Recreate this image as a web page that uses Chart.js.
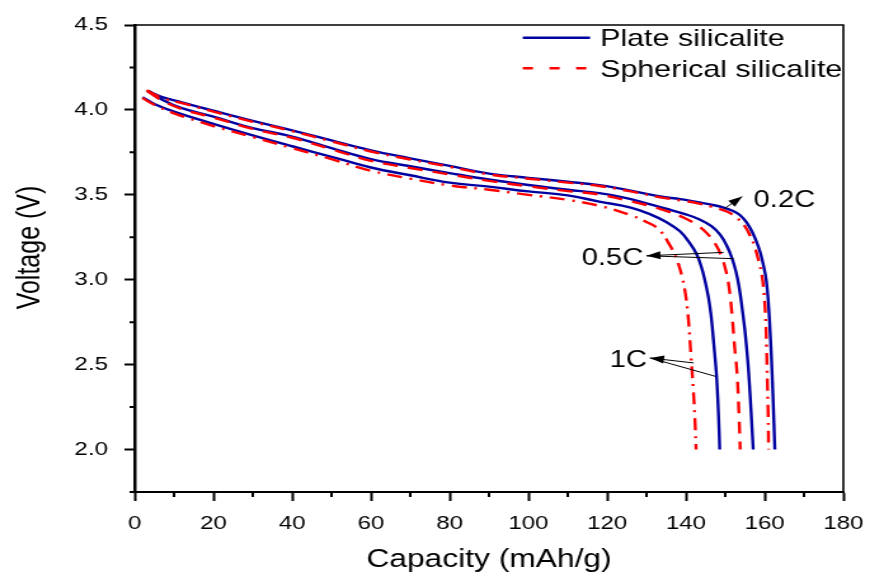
<!DOCTYPE html>
<html>
<head>
<meta charset="utf-8">
<script src="https://cdn.jsdelivr.net/npm/chart.js@4.4.1/dist/chart.umd.min.js"></script>
<style>
  html, body { margin: 0; padding: 0; background: #fff; overflow: hidden; }
  /* the figure is drawn narrow and stretched sideways, like the original plot export */
  #wrap { width: 685px; height: 579px; transform: scaleX(1.2701); transform-origin: 0 0; }
</style>
</head>
<body>
<div id="wrap"><canvas id="chart" width="685" height="579"></canvas></div>
<script>
// ── discharge curves: capacity (mAh/g) vs voltage (V) ─────────────────────
const plate02Cap  = [3.3, 7, 12, 20, 30, 40, 50, 60, 70, 80, 90, 100, 110, 118, 126, 133.5, 138.6, 143, 146.5, 149.6, 152, 153.8, 155.5, 156.8, 158, 158.9, 159.7, 160.4, 161, 161.5, 161.9, 162.3, 162.6];
const plate02Volt = [4.112, 4.075, 4.045, 3.995, 3.935, 3.88, 3.82, 3.762, 3.715, 3.67, 3.625, 3.6, 3.577, 3.557, 3.525, 3.49, 3.475, 3.457, 3.442, 3.425, 3.405, 3.38, 3.335, 3.284, 3.22, 3.16, 3.085, 3.0, 2.85, 2.65, 2.45, 2.2, 2.0];

const plate05Cap  = [3.4, 7, 12, 20, 30, 40, 50, 60, 70, 80, 90, 100, 110, 118, 124, 130, 135, 140, 143.5, 146.5, 148.7, 150.4, 151.7, 152.7, 153.5, 154.3, 155, 155.8, 156.5, 157.1];
const plate05Volt = [4.113, 4.06, 4.01, 3.96, 3.893, 3.843, 3.775, 3.71, 3.668, 3.628, 3.59, 3.558, 3.53, 3.51, 3.485, 3.45, 3.418, 3.385, 3.355, 3.315, 3.265, 3.2, 3.128, 3.05, 2.96, 2.83, 2.7, 2.5, 2.25, 2.0];

const plate1Cap   = [2.0, 5, 10, 20, 30, 40, 50, 60, 70, 80, 90, 100, 110, 118, 126, 131, 135, 138.5, 141, 142.8, 144, 144.9, 145.7, 146.4, 147.1, 147.8, 148.3, 148.6];
const plate1Volt  = [4.075, 4.035, 3.99, 3.918, 3.85, 3.786, 3.724, 3.661, 3.615, 3.572, 3.548, 3.52, 3.497, 3.46, 3.425, 3.385, 3.34, 3.285, 3.215, 3.147, 3.07, 2.99, 2.9, 2.79, 2.62, 2.43, 2.2, 2.0];

const sphere02Cap  = [3.0, 7, 12, 20, 30, 40, 50, 60, 70, 80, 90, 100, 110, 118, 126, 133.5, 138.6, 143, 146.5, 150.4, 152.6, 154.7, 156.3, 157.6, 158.6, 159.3, 159.8, 160.2, 160.5, 160.7, 160.9, 161.0];
const sphere02Volt = [4.115, 4.07, 4.04, 3.99, 3.93, 3.875, 3.815, 3.755, 3.708, 3.665, 3.62, 3.595, 3.572, 3.552, 3.52, 3.485, 3.467, 3.45, 3.43, 3.402, 3.37, 3.324, 3.26, 3.186, 3.1, 3.029, 2.93, 2.8, 2.6, 2.4, 2.2, 2.0];

const sphere05Cap  = [3.3, 7, 12, 20, 30, 40, 50, 60, 70, 80, 90, 100, 110, 118, 124, 130, 135, 139.5, 143, 145.5, 147.5, 149, 150.2, 151, 151.7, 152.4, 153, 153.5, 153.8];
const sphere05Volt = [4.11, 4.055, 4.005, 3.955, 3.888, 3.836, 3.768, 3.7, 3.658, 3.62, 3.582, 3.55, 3.522, 3.502, 3.472, 3.44, 3.405, 3.365, 3.32, 3.27, 3.21, 3.14, 3.05, 2.95, 2.8, 2.6, 2.45, 2.2, 2.0];

const sphere1Cap   = [2.0, 5, 10, 20, 30, 40, 50, 60, 70, 80, 90, 100, 110, 118, 126, 130, 133, 135.5, 137.5, 139, 140, 140.7, 141.3, 141.9, 142.3, 142.6];
const sphere1Volt  = [4.07, 4.03, 3.98, 3.905, 3.84, 3.775, 3.71, 3.642, 3.595, 3.555, 3.53, 3.5, 3.47, 3.435, 3.38, 3.34, 3.3, 3.22, 3.13, 3.02, 2.9, 2.75, 2.55, 2.35, 2.18, 2.0];

// ── axes ───────────────────────────────────────────────────────────────────
const xTicks = [0, 10, 20, 30, 40, 50, 60, 70, 80, 90, 100, 110, 120, 130, 140, 150, 160, 170, 180];
const yTicks = [1.75, 2.0, 2.25, 2.5, 2.75, 3.0, 3.25, 3.5, 3.75, 4.0, 4.25, 4.5];

const legendNames = ['Plate silicalite', 'Spherical silicalite'];

// arrows: label anchor, arrow tip, arrow tails (all in data units)
const rateNotes = [
  { text: '0.2C', side: 'left',  at: [157.2, 3.429], tip: [154.3, 3.49],  tails: [[149.6, 3.416]] },
  { text: '0.5C', side: 'right', at: [129.2, 3.084], tip: [130.0, 3.141], tails: [[149.6, 3.161], [152.1, 3.124]] },
  { text: '1C',   side: 'right', at: [130.1, 2.486], tip: [130.9, 2.539], tails: [[142.0, 2.51], [147.5, 2.431]] },
];

const BLUE = '#0000a0';
const RED  = '#ff0000';
const FONT = "'Liberation Sans', Arial, sans-serif";
const DASH     = [12, 8];
const DASH_DOT = [12, 6, 2, 6];

const pts = (xs, ys) => xs.map((x, i) => ({ x, y: ys[i] }));
const isMajorX = v => v % 20 === 0;
const isMajorY = v => v >= 2 && Math.abs(v * 2 - Math.round(v * 2)) < 1e-6;

function curve(xs, ys, color, dash) {
  return {
    data: pts(xs, ys),
    borderColor: color,
    borderWidth: 2.4,
    borderDash: dash,
    pointRadius: 0,
    showLine: true,
    fill: false,
    tension: 0.4,
  };
}

// red first so it sits on top of the blue lines
const datasets = [
  curve(sphere02Cap, sphere02Volt, RED, DASH_DOT),
  curve(sphere05Cap, sphere05Volt, RED, DASH),
  curve(sphere1Cap,  sphere1Volt,  RED, DASH_DOT),
  curve(plate02Cap,  plate02Volt,  BLUE, []),
  curve(plate05Cap,  plate05Volt,  BLUE, []),
  curve(plate1Cap,   plate1Volt,   BLUE, []),
];

// ── frame, minor ticks, legend, y title and rate arrows ───────────────────
const extras = {
  id: 'extras',
  afterDraw(chart) {
    const { ctx, chartArea: a, scales: { x, y } } = chart;
    ctx.save();
    ctx.strokeStyle = '#000';

    // top and right edges of the frame
    ctx.lineWidth = 1.6;
    ctx.beginPath();
    ctx.moveTo(a.left, a.top); ctx.lineTo(a.right, a.top); ctx.lineTo(a.right, a.bottom);
    ctx.stroke();

    // short minor ticks
    ctx.lineWidth = 2;
    ctx.beginPath();
    xTicks.filter(v => !isMajorX(v)).forEach(v => {
      const px = x.getPixelForValue(v);
      ctx.moveTo(px, a.bottom); ctx.lineTo(px, a.bottom + 5);
    });
    yTicks.filter(v => !isMajorY(v)).forEach(v => {
      const py = y.getPixelForValue(v);
      ctx.moveTo(a.left, py); ctx.lineTo(a.left - 4, py);
    });
    ctx.stroke();

    // legend
    const legendRows = [
      { name: legendNames[0], color: BLUE, dash: [],      lineY: 37.7, baseY: 45.7 },
      { name: legendNames[1], color: RED,  dash: [8, 13], lineY: 68.3, baseY: 76.5 },
    ];
    ctx.font = `24px ${FONT}`;
    ctx.textBaseline = 'alphabetic';
    ctx.textAlign = 'left';
    legendRows.forEach(r => {
      ctx.strokeStyle = r.color;
      ctx.lineWidth = 2.4;
      ctx.setLineDash(r.dash);
      ctx.beginPath();
      ctx.moveTo(411.6, r.lineY); ctx.lineTo(464.6, r.lineY);
      ctx.stroke();
      ctx.setLineDash([]);
      ctx.fillStyle = '#000';
      ctx.fillText(r.name, 472.4, r.baseY);
    });

    // y axis title
    ctx.save();
    ctx.translate(24, 247.5);
    ctx.rotate(-Math.PI / 2);
    ctx.font = `25px ${FONT}`;
    ctx.textAlign = 'center';
    ctx.textBaseline = 'middle';
    ctx.fillStyle = '#000';
    ctx.fillText('Voltage (V)', 0, 0);
    ctx.restore();

    // rate labels with arrows
    ctx.strokeStyle = '#000';
    ctx.fillStyle = '#000';
    ctx.lineWidth = 1;
    rateNotes.forEach(n => {
      const tx = x.getPixelForValue(n.tip[0]), ty = y.getPixelForValue(n.tip[1]);
      n.tails.forEach(t => {
        ctx.beginPath();
        ctx.moveTo(x.getPixelForValue(t[0]), y.getPixelForValue(t[1]));
        ctx.lineTo(tx, ty);
        ctx.stroke();
      });
      // arrow head along the first tail direction
      const t0 = n.tails[0];
      const ang = Math.atan2(ty - y.getPixelForValue(t0[1]), tx - x.getPixelForValue(t0[0]));
      const len = 11, half = 4;
      ctx.beginPath();
      ctx.moveTo(tx, ty);
      ctx.lineTo(tx - len * Math.cos(ang) + half * Math.sin(ang), ty - len * Math.sin(ang) - half * Math.cos(ang));
      ctx.lineTo(tx - len * Math.cos(ang) - half * Math.sin(ang), ty - len * Math.sin(ang) + half * Math.cos(ang));
      ctx.closePath();
      ctx.fill();

      ctx.font = `23px ${FONT}`;
      ctx.textAlign = n.side;
      ctx.textBaseline = 'alphabetic';
      ctx.fillText(n.text, x.getPixelForValue(n.at[0]), y.getPixelForValue(n.at[1]));
    });
    ctx.restore();
  },
};

new Chart(document.getElementById('chart'), {
  type: 'scatter',
  data: { datasets },
  plugins: [extras],
  options: {
    responsive: false,
    animation: false,
    devicePixelRatio: 1,
    layout: { padding: { top: 25, right: 21, left: 0, bottom: 0 } },
    plugins: { legend: { display: false }, tooltip: { enabled: false } },
    scales: {
      x: {
        type: 'linear',
        min: 0, max: 180,
        // fixed axis box; no extra room for the end labels
        afterFit: s => { s.height = 87; s.paddingLeft = 0; s.paddingRight = 0; },
        afterBuildTicks: s => { s.ticks = xTicks.map(value => ({ value })); },
        ticks: {
          color: '#000', padding: 11, maxRotation: 0, autoSkip: false,
          font: { family: FONT, size: 19 },
          callback: v => isMajorX(v) ? String(v) : '',
        },
        grid: {
          drawOnChartArea: false, tickLength: 9, tickWidth: 2,
          tickColor: c => (c.tick && isMajorX(c.tick.value)) ? '#000' : 'rgba(0,0,0,0)',
        },
        border: { display: true, color: '#000', width: 2 },
        title: {
          display: true, text: 'Capacity (mAh/g)', color: '#000',
          font: { family: FONT, size: 25 }, padding: { top: 0, bottom: 4 },
        },
      },
      y: {
        type: 'linear',
        min: 1.75, max: 4.5,
        afterFit: s => { s.width = 106; s.paddingTop = 0; s.paddingBottom = 0; },
        afterBuildTicks: s => { s.ticks = yTicks.map(value => ({ value })); },
        ticks: {
          color: '#000', padding: 13, autoSkip: false,
          font: { family: FONT, size: 19 },
          callback: v => isMajorY(v) ? v.toFixed(1) : '',
        },
        grid: {
          drawOnChartArea: false, tickLength: 8, tickWidth: 2,
          tickColor: c => (c.tick && isMajorY(c.tick.value)) ? '#000' : 'rgba(0,0,0,0)',
        },
        border: { display: true, color: '#000', width: 2.5 },
      },
    },
  },
});
</script>
</body>
</html>
